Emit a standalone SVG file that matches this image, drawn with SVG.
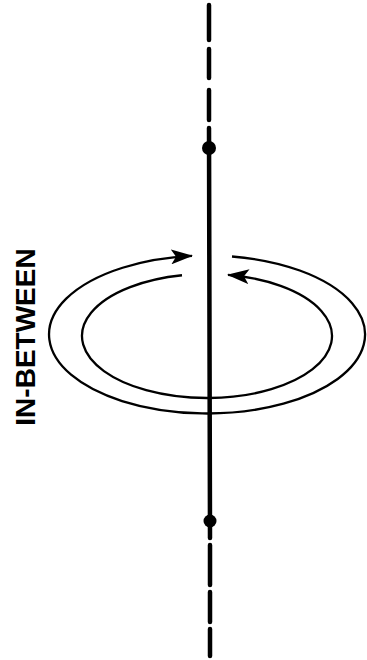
<svg xmlns="http://www.w3.org/2000/svg" width="367" height="660" viewBox="0 0 367 660">
<style>
.axis{stroke:#000;stroke-width:4.5;stroke-linecap:round;fill:none}
.loop{stroke:#000;stroke-width:2.3;fill:none}
.lbl{font-family:"Liberation Sans",Arial,sans-serif;font-weight:bold;font-size:28px;fill:#000}
</style>
<defs>
<marker id="ah" viewBox="0 0 22 15" refX="21" refY="7.5" markerWidth="22" markerHeight="15" markerUnits="userSpaceOnUse" orient="auto">
<path d="M0,0 L22,7.5 L0,15 L5,7.5 Z" fill="#000"/>
</marker>
</defs>
<rect width="367" height="660" fill="#fff"/>
<g id="axis">
<path class="axis" d="M209,5 V40 M209,49 V78 M209,90 V120 M209,128 L210,538 M210,545 V585 M210,592 V622 M210,629 V656"/>
</g>
<g id="point-top"><circle cx="209" cy="148" r="7" fill="#000"/></g>
<g id="point-bottom"><circle cx="210" cy="521" r="6.5" fill="#000"/></g>
<g id="connectors">
<path class="loop" d="M232,256.495 A158,79 0 1 1 192,255.862" marker-end="url(#ah)"/>
<path class="loop" d="M182,275.252 A125,62 0 1 0 228,274.881" marker-end="url(#ah)"/>
</g>
<g id="label">
<text class="lbl" transform="translate(35,337) rotate(-90)" text-anchor="middle">IN-BETWEEN</text>
</g>
</svg>
